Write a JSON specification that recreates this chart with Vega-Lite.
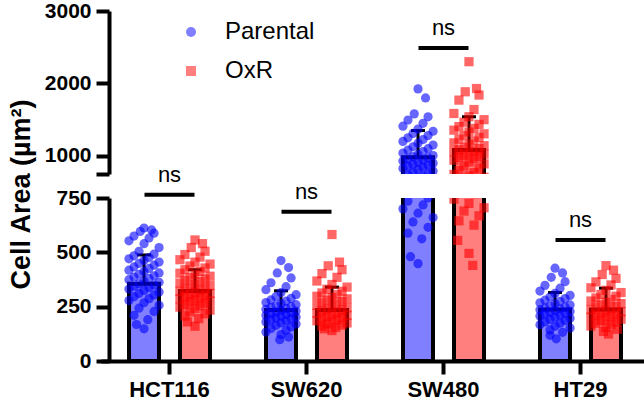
{
  "$schema": "https://vega.github.io/schema/vega-lite/v6.json",
  "padding": {"left": 6, "top": 0, "right": 0, "bottom": 0},
  "bounds": "flush",
  "spacing": 24,
  "config": {
    "font": "Liberation Sans",
    "view": {"stroke": null},
    "axis": {"grid": false, "domainColor": "black", "domainWidth": 4, "tickColor": "black", "tickWidth": 4, "tickSize": 13, "labelFont": "Liberation Sans", "labelFontWeight": "bold", "labelColor": "black", "labelFontSize": 21, "labelPadding": 5, "titleColor": "black", "titleFont": "Liberation Sans"},
    "legend": {"orient": "none", "legendX": 70, "legendY": 9, "title": null, "labelFontSize": 24, "labelFont": "Liberation Sans", "labelColor": "black", "symbolSize": 100, "labelOffset": 22, "rowPadding": 15, "padding": 0, "symbolOpacity": 0.5, "symbolStrokeWidth": 0}
  },
  "datasets": {
    "summary": [
      {"cell": "HCT116", "group": "Parental", "mean": 356, "upper": 488},
      {"cell": "HCT116", "group": "OxR", "mean": 322, "upper": 420},
      {"cell": "SW620", "group": "Parental", "mean": 235, "upper": 323},
      {"cell": "SW620", "group": "OxR", "mean": 235, "upper": 340},
      {"cell": "SW480", "group": "Parental", "mean": 981, "upper": 1350},
      {"cell": "SW480", "group": "OxR", "mean": 1082, "upper": 1540},
      {"cell": "HT29", "group": "Parental", "mean": 237, "upper": 315},
      {"cell": "HT29", "group": "OxR", "mean": 237, "upper": 335}
    ],
    "ns": [
      {"cell": "HCT116", "y": 765, "label": "ns"},
      {"cell": "SW620", "y": 687, "label": "ns"},
      {"cell": "SW480", "y": 2488, "label": "ns"},
      {"cell": "HT29", "y": 557, "label": "ns"}
    ],
    "pts": [
      {"cell":"HCT116","group":"Parental","value":612},{"cell":"HCT116","group":"Parental","value":603},{"cell":"HCT116","group":"Parental","value":596},{"cell":"HCT116","group":"Parental","value":588},{"cell":"HCT116","group":"Parental","value":575},{"cell":"HCT116","group":"Parental","value":566},{"cell":"HCT116","group":"Parental","value":553},{"cell":"HCT116","group":"Parental","value":540},{"cell":"HCT116","group":"Parental","value":522},{"cell":"HCT116","group":"Parental","value":505},{"cell":"HCT116","group":"Parental","value":492},{"cell":"HCT116","group":"Parental","value":484},{"cell":"HCT116","group":"Parental","value":476},{"cell":"HCT116","group":"Parental","value":470},{"cell":"HCT116","group":"Parental","value":462},{"cell":"HCT116","group":"Parental","value":455},{"cell":"HCT116","group":"Parental","value":449},{"cell":"HCT116","group":"Parental","value":441},{"cell":"HCT116","group":"Parental","value":433},{"cell":"HCT116","group":"Parental","value":426},{"cell":"HCT116","group":"Parental","value":418},{"cell":"HCT116","group":"Parental","value":412},{"cell":"HCT116","group":"Parental","value":405},{"cell":"HCT116","group":"Parental","value":399},{"cell":"HCT116","group":"Parental","value":392},{"cell":"HCT116","group":"Parental","value":386},{"cell":"HCT116","group":"Parental","value":380},{"cell":"HCT116","group":"Parental","value":374},{"cell":"HCT116","group":"Parental","value":368},{"cell":"HCT116","group":"Parental","value":362},{"cell":"HCT116","group":"Parental","value":356},{"cell":"HCT116","group":"Parental","value":350},{"cell":"HCT116","group":"Parental","value":344},{"cell":"HCT116","group":"Parental","value":338},{"cell":"HCT116","group":"Parental","value":331},{"cell":"HCT116","group":"Parental","value":325},{"cell":"HCT116","group":"Parental","value":318},{"cell":"HCT116","group":"Parental","value":311},{"cell":"HCT116","group":"Parental","value":304},{"cell":"HCT116","group":"Parental","value":296},{"cell":"HCT116","group":"Parental","value":287},{"cell":"HCT116","group":"Parental","value":278},{"cell":"HCT116","group":"Parental","value":268},{"cell":"HCT116","group":"Parental","value":256},{"cell":"HCT116","group":"Parental","value":243},{"cell":"HCT116","group":"Parental","value":228},{"cell":"HCT116","group":"Parental","value":210},{"cell":"HCT116","group":"Parental","value":190},{"cell":"HCT116","group":"Parental","value":168},{"cell":"HCT116","group":"Parental","value":148},
      {"cell":"HCT116","group":"OxR","value":557},{"cell":"HCT116","group":"OxR","value":540},{"cell":"HCT116","group":"OxR","value":522},{"cell":"HCT116","group":"OxR","value":505},{"cell":"HCT116","group":"OxR","value":490},{"cell":"HCT116","group":"OxR","value":478},{"cell":"HCT116","group":"OxR","value":466},{"cell":"HCT116","group":"OxR","value":455},{"cell":"HCT116","group":"OxR","value":446},{"cell":"HCT116","group":"OxR","value":437},{"cell":"HCT116","group":"OxR","value":428},{"cell":"HCT116","group":"OxR","value":420},{"cell":"HCT116","group":"OxR","value":412},{"cell":"HCT116","group":"OxR","value":404},{"cell":"HCT116","group":"OxR","value":397},{"cell":"HCT116","group":"OxR","value":390},{"cell":"HCT116","group":"OxR","value":383},{"cell":"HCT116","group":"OxR","value":377},{"cell":"HCT116","group":"OxR","value":371},{"cell":"HCT116","group":"OxR","value":365},{"cell":"HCT116","group":"OxR","value":359},{"cell":"HCT116","group":"OxR","value":353},{"cell":"HCT116","group":"OxR","value":347},{"cell":"HCT116","group":"OxR","value":341},{"cell":"HCT116","group":"OxR","value":336},{"cell":"HCT116","group":"OxR","value":331},{"cell":"HCT116","group":"OxR","value":326},{"cell":"HCT116","group":"OxR","value":321},{"cell":"HCT116","group":"OxR","value":316},{"cell":"HCT116","group":"OxR","value":311},{"cell":"HCT116","group":"OxR","value":306},{"cell":"HCT116","group":"OxR","value":301},{"cell":"HCT116","group":"OxR","value":296},{"cell":"HCT116","group":"OxR","value":291},{"cell":"HCT116","group":"OxR","value":286},{"cell":"HCT116","group":"OxR","value":281},{"cell":"HCT116","group":"OxR","value":276},{"cell":"HCT116","group":"OxR","value":271},{"cell":"HCT116","group":"OxR","value":266},{"cell":"HCT116","group":"OxR","value":260},{"cell":"HCT116","group":"OxR","value":254},{"cell":"HCT116","group":"OxR","value":248},{"cell":"HCT116","group":"OxR","value":241},{"cell":"HCT116","group":"OxR","value":234},{"cell":"HCT116","group":"OxR","value":226},{"cell":"HCT116","group":"OxR","value":217},{"cell":"HCT116","group":"OxR","value":207},{"cell":"HCT116","group":"OxR","value":195},{"cell":"HCT116","group":"OxR","value":180},{"cell":"HCT116","group":"OxR","value":160},
      {"cell":"SW620","group":"Parental","value":462},{"cell":"SW620","group":"Parental","value":430},{"cell":"SW620","group":"Parental","value":405},{"cell":"SW620","group":"Parental","value":382},{"cell":"SW620","group":"Parental","value":360},{"cell":"SW620","group":"Parental","value":342},{"cell":"SW620","group":"Parental","value":328},{"cell":"SW620","group":"Parental","value":315},{"cell":"SW620","group":"Parental","value":305},{"cell":"SW620","group":"Parental","value":296},{"cell":"SW620","group":"Parental","value":288},{"cell":"SW620","group":"Parental","value":281},{"cell":"SW620","group":"Parental","value":275},{"cell":"SW620","group":"Parental","value":269},{"cell":"SW620","group":"Parental","value":264},{"cell":"SW620","group":"Parental","value":259},{"cell":"SW620","group":"Parental","value":254},{"cell":"SW620","group":"Parental","value":250},{"cell":"SW620","group":"Parental","value":246},{"cell":"SW620","group":"Parental","value":242},{"cell":"SW620","group":"Parental","value":238},{"cell":"SW620","group":"Parental","value":234},{"cell":"SW620","group":"Parental","value":230},{"cell":"SW620","group":"Parental","value":226},{"cell":"SW620","group":"Parental","value":222},{"cell":"SW620","group":"Parental","value":218},{"cell":"SW620","group":"Parental","value":214},{"cell":"SW620","group":"Parental","value":210},{"cell":"SW620","group":"Parental","value":206},{"cell":"SW620","group":"Parental","value":202},{"cell":"SW620","group":"Parental","value":198},{"cell":"SW620","group":"Parental","value":194},{"cell":"SW620","group":"Parental","value":190},{"cell":"SW620","group":"Parental","value":185},{"cell":"SW620","group":"Parental","value":180},{"cell":"SW620","group":"Parental","value":175},{"cell":"SW620","group":"Parental","value":170},{"cell":"SW620","group":"Parental","value":164},{"cell":"SW620","group":"Parental","value":157},{"cell":"SW620","group":"Parental","value":150},{"cell":"SW620","group":"Parental","value":142},{"cell":"SW620","group":"Parental","value":133},{"cell":"SW620","group":"Parental","value":122},{"cell":"SW620","group":"Parental","value":110},{"cell":"SW620","group":"Parental","value":98},
      {"cell":"SW620","group":"OxR","value":582},{"cell":"SW620","group":"OxR","value":455},{"cell":"SW620","group":"OxR","value":438},{"cell":"SW620","group":"OxR","value":420},{"cell":"SW620","group":"OxR","value":402},{"cell":"SW620","group":"OxR","value":385},{"cell":"SW620","group":"OxR","value":368},{"cell":"SW620","group":"OxR","value":352},{"cell":"SW620","group":"OxR","value":340},{"cell":"SW620","group":"OxR","value":330},{"cell":"SW620","group":"OxR","value":321},{"cell":"SW620","group":"OxR","value":313},{"cell":"SW620","group":"OxR","value":305},{"cell":"SW620","group":"OxR","value":298},{"cell":"SW620","group":"OxR","value":292},{"cell":"SW620","group":"OxR","value":286},{"cell":"SW620","group":"OxR","value":280},{"cell":"SW620","group":"OxR","value":274},{"cell":"SW620","group":"OxR","value":268},{"cell":"SW620","group":"OxR","value":262},{"cell":"SW620","group":"OxR","value":256},{"cell":"SW620","group":"OxR","value":250},{"cell":"SW620","group":"OxR","value":245},{"cell":"SW620","group":"OxR","value":240},{"cell":"SW620","group":"OxR","value":235},{"cell":"SW620","group":"OxR","value":230},{"cell":"SW620","group":"OxR","value":225},{"cell":"SW620","group":"OxR","value":220},{"cell":"SW620","group":"OxR","value":215},{"cell":"SW620","group":"OxR","value":210},{"cell":"SW620","group":"OxR","value":205},{"cell":"SW620","group":"OxR","value":200},{"cell":"SW620","group":"OxR","value":195},{"cell":"SW620","group":"OxR","value":190},{"cell":"SW620","group":"OxR","value":185},{"cell":"SW620","group":"OxR","value":180},{"cell":"SW620","group":"OxR","value":175},{"cell":"SW620","group":"OxR","value":170},{"cell":"SW620","group":"OxR","value":165},{"cell":"SW620","group":"OxR","value":160},{"cell":"SW620","group":"OxR","value":154},{"cell":"SW620","group":"OxR","value":148},{"cell":"SW620","group":"OxR","value":140},
      {"cell":"SW480","group":"Parental","value":1925},{"cell":"SW480","group":"Parental","value":1800},{"cell":"SW480","group":"Parental","value":1580},{"cell":"SW480","group":"Parental","value":1540},{"cell":"SW480","group":"Parental","value":1495},{"cell":"SW480","group":"Parental","value":1450},{"cell":"SW480","group":"Parental","value":1410},{"cell":"SW480","group":"Parental","value":1370},{"cell":"SW480","group":"Parental","value":1340},{"cell":"SW480","group":"Parental","value":1310},{"cell":"SW480","group":"Parental","value":1280},{"cell":"SW480","group":"Parental","value":1250},{"cell":"SW480","group":"Parental","value":1225},{"cell":"SW480","group":"Parental","value":1200},{"cell":"SW480","group":"Parental","value":1175},{"cell":"SW480","group":"Parental","value":1150},{"cell":"SW480","group":"Parental","value":1125},{"cell":"SW480","group":"Parental","value":1100},{"cell":"SW480","group":"Parental","value":1080},{"cell":"SW480","group":"Parental","value":1060},{"cell":"SW480","group":"Parental","value":1040},{"cell":"SW480","group":"Parental","value":1020},{"cell":"SW480","group":"Parental","value":1005},{"cell":"SW480","group":"Parental","value":990},{"cell":"SW480","group":"Parental","value":975},{"cell":"SW480","group":"Parental","value":960},{"cell":"SW480","group":"Parental","value":945},{"cell":"SW480","group":"Parental","value":930},{"cell":"SW480","group":"Parental","value":915},{"cell":"SW480","group":"Parental","value":900},{"cell":"SW480","group":"Parental","value":885},{"cell":"SW480","group":"Parental","value":870},{"cell":"SW480","group":"Parental","value":855},{"cell":"SW480","group":"Parental","value":840},{"cell":"SW480","group":"Parental","value":825},{"cell":"SW480","group":"Parental","value":810},{"cell":"SW480","group":"Parental","value":790},{"cell":"SW480","group":"Parental","value":770},{"cell":"SW480","group":"Parental","value":750},{"cell":"SW480","group":"Parental","value":735},{"cell":"SW480","group":"Parental","value":718},{"cell":"SW480","group":"Parental","value":700},{"cell":"SW480","group":"Parental","value":680},{"cell":"SW480","group":"Parental","value":660},{"cell":"SW480","group":"Parental","value":640},{"cell":"SW480","group":"Parental","value":615},{"cell":"SW480","group":"Parental","value":588},{"cell":"SW480","group":"Parental","value":562},{"cell":"SW480","group":"Parental","value":480},{"cell":"SW480","group":"Parental","value":448},
      {"cell":"SW480","group":"OxR","value":2300},{"cell":"SW480","group":"OxR","value":1930},{"cell":"SW480","group":"OxR","value":1885},{"cell":"SW480","group":"OxR","value":1840},{"cell":"SW480","group":"OxR","value":1770},{"cell":"SW480","group":"OxR","value":1640},{"cell":"SW480","group":"OxR","value":1585},{"cell":"SW480","group":"OxR","value":1540},{"cell":"SW480","group":"OxR","value":1500},{"cell":"SW480","group":"OxR","value":1465},{"cell":"SW480","group":"OxR","value":1435},{"cell":"SW480","group":"OxR","value":1405},{"cell":"SW480","group":"OxR","value":1380},{"cell":"SW480","group":"OxR","value":1355},{"cell":"SW480","group":"OxR","value":1330},{"cell":"SW480","group":"OxR","value":1305},{"cell":"SW480","group":"OxR","value":1280},{"cell":"SW480","group":"OxR","value":1255},{"cell":"SW480","group":"OxR","value":1230},{"cell":"SW480","group":"OxR","value":1205},{"cell":"SW480","group":"OxR","value":1180},{"cell":"SW480","group":"OxR","value":1160},{"cell":"SW480","group":"OxR","value":1140},{"cell":"SW480","group":"OxR","value":1120},{"cell":"SW480","group":"OxR","value":1100},{"cell":"SW480","group":"OxR","value":1085},{"cell":"SW480","group":"OxR","value":1070},{"cell":"SW480","group":"OxR","value":1055},{"cell":"SW480","group":"OxR","value":1040},{"cell":"SW480","group":"OxR","value":1025},{"cell":"SW480","group":"OxR","value":1010},{"cell":"SW480","group":"OxR","value":995},{"cell":"SW480","group":"OxR","value":980},{"cell":"SW480","group":"OxR","value":960},{"cell":"SW480","group":"OxR","value":940},{"cell":"SW480","group":"OxR","value":915},{"cell":"SW480","group":"OxR","value":890},{"cell":"SW480","group":"OxR","value":860},{"cell":"SW480","group":"OxR","value":830},{"cell":"SW480","group":"OxR","value":800},{"cell":"SW480","group":"OxR","value":770},{"cell":"SW480","group":"OxR","value":745},{"cell":"SW480","group":"OxR","value":725},{"cell":"SW480","group":"OxR","value":705},{"cell":"SW480","group":"OxR","value":690},{"cell":"SW480","group":"OxR","value":668},{"cell":"SW480","group":"OxR","value":645},{"cell":"SW480","group":"OxR","value":625},{"cell":"SW480","group":"OxR","value":555},{"cell":"SW480","group":"OxR","value":495},{"cell":"SW480","group":"OxR","value":440},
      {"cell":"HT29","group":"Parental","value":427},{"cell":"HT29","group":"Parental","value":405},{"cell":"HT29","group":"Parental","value":385},{"cell":"HT29","group":"Parental","value":365},{"cell":"HT29","group":"Parental","value":348},{"cell":"HT29","group":"Parental","value":335},{"cell":"HT29","group":"Parental","value":322},{"cell":"HT29","group":"Parental","value":311},{"cell":"HT29","group":"Parental","value":302},{"cell":"HT29","group":"Parental","value":294},{"cell":"HT29","group":"Parental","value":287},{"cell":"HT29","group":"Parental","value":280},{"cell":"HT29","group":"Parental","value":274},{"cell":"HT29","group":"Parental","value":268},{"cell":"HT29","group":"Parental","value":263},{"cell":"HT29","group":"Parental","value":258},{"cell":"HT29","group":"Parental","value":253},{"cell":"HT29","group":"Parental","value":248},{"cell":"HT29","group":"Parental","value":244},{"cell":"HT29","group":"Parental","value":240},{"cell":"HT29","group":"Parental","value":236},{"cell":"HT29","group":"Parental","value":232},{"cell":"HT29","group":"Parental","value":228},{"cell":"HT29","group":"Parental","value":224},{"cell":"HT29","group":"Parental","value":220},{"cell":"HT29","group":"Parental","value":216},{"cell":"HT29","group":"Parental","value":212},{"cell":"HT29","group":"Parental","value":207},{"cell":"HT29","group":"Parental","value":202},{"cell":"HT29","group":"Parental","value":197},{"cell":"HT29","group":"Parental","value":192},{"cell":"HT29","group":"Parental","value":186},{"cell":"HT29","group":"Parental","value":180},{"cell":"HT29","group":"Parental","value":174},{"cell":"HT29","group":"Parental","value":167},{"cell":"HT29","group":"Parental","value":160},{"cell":"HT29","group":"Parental","value":152},{"cell":"HT29","group":"Parental","value":143},{"cell":"HT29","group":"Parental","value":132},{"cell":"HT29","group":"Parental","value":118},{"cell":"HT29","group":"Parental","value":102},
      {"cell":"HT29","group":"OxR","value":439},{"cell":"HT29","group":"OxR","value":418},{"cell":"HT29","group":"OxR","value":398},{"cell":"HT29","group":"OxR","value":380},{"cell":"HT29","group":"OxR","value":364},{"cell":"HT29","group":"OxR","value":350},{"cell":"HT29","group":"OxR","value":337},{"cell":"HT29","group":"OxR","value":325},{"cell":"HT29","group":"OxR","value":315},{"cell":"HT29","group":"OxR","value":306},{"cell":"HT29","group":"OxR","value":298},{"cell":"HT29","group":"OxR","value":290},{"cell":"HT29","group":"OxR","value":283},{"cell":"HT29","group":"OxR","value":276},{"cell":"HT29","group":"OxR","value":270},{"cell":"HT29","group":"OxR","value":264},{"cell":"HT29","group":"OxR","value":258},{"cell":"HT29","group":"OxR","value":252},{"cell":"HT29","group":"OxR","value":247},{"cell":"HT29","group":"OxR","value":242},{"cell":"HT29","group":"OxR","value":237},{"cell":"HT29","group":"OxR","value":232},{"cell":"HT29","group":"OxR","value":227},{"cell":"HT29","group":"OxR","value":222},{"cell":"HT29","group":"OxR","value":217},{"cell":"HT29","group":"OxR","value":212},{"cell":"HT29","group":"OxR","value":207},{"cell":"HT29","group":"OxR","value":202},{"cell":"HT29","group":"OxR","value":197},{"cell":"HT29","group":"OxR","value":192},{"cell":"HT29","group":"OxR","value":186},{"cell":"HT29","group":"OxR","value":180},{"cell":"HT29","group":"OxR","value":174},{"cell":"HT29","group":"OxR","value":168},{"cell":"HT29","group":"OxR","value":161},{"cell":"HT29","group":"OxR","value":154},{"cell":"HT29","group":"OxR","value":146},{"cell":"HT29","group":"OxR","value":136},{"cell":"HT29","group":"OxR","value":124}
    ]
  },
  "resolve": {"scale": {"y": "independent"}, "legend": {"color": "independent", "shape": "independent"}},
  "vconcat": [
    {
      "width": 532,
      "height": 163,
      "resolve": {"scale": {"xOffset": "independent"}},
      "encoding": {
        "x": {"field": "cell", "type": "nominal", "axis": null, "scale": {"domain": ["HCT116", "SW620", "SW480", "HT29"], "range": [-8, 540], "paddingInner": 0, "paddingOuter": 0}},
        "y": {"type": "quantitative", "scale": {"domain": [750, 3000], "nice": false, "zero": false}, "axis": {"values": [750, 1000, 2000, 3000], "format": "d", "labelExpr": "datum.value == 750 ? '' : datum.label", "title": null}}
      },
      "layer": [
        {
          "data": {"name": "summary"},
          "transform": [{"filter": "datum.mean > 750"}],
          "mark": {"type": "bar", "fillOpacity": 0.5, "stroke": "black", "strokeWidth": 4, "clip": true},
          "encoding": {
            "xOffset": {"field": "group", "type": "nominal", "scale": {"domain": ["Parental", "OxR"], "paddingInner": 0.412, "paddingOuter": 0.549}},
            "y": {"field": "mean", "type": "quantitative"},
            "y2": {"datum": 700},
            "color": {"field": "group", "type": "nominal", "scale": {"domain": ["Parental", "OxR"], "range": ["#0000ff", "#ff0000"]}}
          }
        },
        {
          "data": {"name": "summary"},
          "transform": [{"filter": "datum.mean > 750"}],
          "mark": {"type": "rule", "color": "black", "strokeWidth": 3, "clip": true},
          "encoding": {
            "xOffset": {"field": "group", "type": "nominal", "scale": {"domain": ["Parental", "OxR"], "paddingInner": 0.412, "paddingOuter": 0.549}},
            "y": {"field": "mean", "type": "quantitative"},
            "y2": {"field": "upper"}
          }
        },
        {
          "data": {"name": "summary"},
          "transform": [{"filter": "datum.mean > 750"}],
          "mark": {"type": "tick", "color": "black", "size": 14, "thickness": 3, "opacity": 1, "clip": true},
          "encoding": {
            "xOffset": {"field": "group", "type": "nominal", "scale": {"domain": ["Parental", "OxR"], "paddingInner": 0.412, "paddingOuter": 0.549}},
            "y": {"field": "upper", "type": "quantitative"}
          }
        },
        {
          "data": {"name": "pts"},
          "transform": [
            {"window": [{"op": "row_number", "as": "r"}], "groupby": ["cell", "group"], "sort": [{"field": "value", "order": "descending"}]},
            {"joinaggregate": [{"op": "count", "as": "n"}], "groupby": ["cell", "group"]},
            {"calculate": "(datum.group === 'Parental' ? -0.372 : 0.372) + 0.22 * min(1, datum.r / 4, (datum.n - datum.r + 1) / 4) * (((datum.r * 3) % 7) - 3) / 3", "as": "xo"}
          ],
          "mark": {"type": "point", "filled": true, "opacity": 0.6, "size": 85, "strokeWidth": 0, "clip": true},
          "encoding": {
            "xOffset": {"field": "xo", "type": "quantitative", "scale": {"domain": [-1, 1]}},
            "y": {"field": "value", "type": "quantitative"},
            "color": {"field": "group", "type": "nominal", "scale": {"domain": ["Parental", "OxR"], "range": ["#0000ff", "#ff0000"]}},
            "shape": {"field": "group", "type": "nominal", "scale": {"domain": ["Parental", "OxR"], "range": ["circle", "square"]}}
          }
        },
        {
          "data": {"name": "ns"},
          "transform": [{"filter": "datum.y > 1000"}],
          "mark": {"type": "tick", "color": "black", "size": 50, "thickness": 4, "opacity": 1},
          "encoding": {"y": {"field": "y", "type": "quantitative"}}
        },
        {
          "data": {"name": "ns"},
          "transform": [{"filter": "datum.y > 1000"}],
          "mark": {"type": "text", "fontSize": 22, "font": "Liberation Sans", "color": "black", "dy": -13, "baseline": "alphabetic", "align": "center"},
          "encoding": {"y": {"field": "y", "type": "quantitative"}, "text": {"field": "label"}}
        }
      ]
    },
    {
      "width": 532,
      "height": 163,
      "resolve": {"scale": {"xOffset": "independent"}},
      "encoding": {
        "x": {"field": "cell", "type": "nominal", "scale": {"domain": ["HCT116", "SW620", "SW480", "HT29"], "range": [-8, 540], "paddingInner": 0, "paddingOuter": 0}, "axis": {"title": null, "labelAngle": 0, "labelFontSize": 22, "labelPadding": 5, "tickSize": 13}},
        "y": {"type": "quantitative", "scale": {"domain": [0, 750], "nice": false}, "axis": {"values": [0, 250, 500, 750], "title": "Cell Area (µm²)", "titleX": -80, "titleY": -4, "titleFontSize": 27, "titleFontWeight": "bold", "titleAlign": "center", "titleBaseline": "alphabetic", "titleAngle": 270}}
      },
      "layer": [
        {
          "data": {"name": "summary"},
          "mark": {"type": "bar", "fillOpacity": 0.5, "stroke": "black", "strokeWidth": 4, "clip": true},
          "encoding": {
            "xOffset": {"field": "group", "type": "nominal", "scale": {"domain": ["Parental", "OxR"], "paddingInner": 0.412, "paddingOuter": 0.549}},
            "y": {"field": "mean", "type": "quantitative"},
            "color": {"field": "group", "type": "nominal", "scale": {"domain": ["Parental", "OxR"], "range": ["#0000ff", "#ff0000"]}, "legend": null}
          }
        },
        {
          "data": {"name": "summary"},
          "mark": {"type": "rule", "color": "black", "strokeWidth": 3, "clip": true},
          "encoding": {
            "xOffset": {"field": "group", "type": "nominal", "scale": {"domain": ["Parental", "OxR"], "paddingInner": 0.412, "paddingOuter": 0.549}},
            "y": {"field": "mean", "type": "quantitative"},
            "y2": {"field": "upper"}
          }
        },
        {
          "data": {"name": "summary"},
          "mark": {"type": "tick", "color": "black", "size": 14, "thickness": 3, "opacity": 1, "clip": true},
          "encoding": {
            "xOffset": {"field": "group", "type": "nominal", "scale": {"domain": ["Parental", "OxR"], "paddingInner": 0.412, "paddingOuter": 0.549}},
            "y": {"field": "upper", "type": "quantitative"}
          }
        },
        {
          "data": {"name": "pts"},
          "transform": [
            {"window": [{"op": "row_number", "as": "r"}], "groupby": ["cell", "group"], "sort": [{"field": "value", "order": "descending"}]},
            {"joinaggregate": [{"op": "count", "as": "n"}], "groupby": ["cell", "group"]},
            {"calculate": "(datum.group === 'Parental' ? -0.372 : 0.372) + 0.22 * min(1, datum.r / 4, (datum.n - datum.r + 1) / 4) * (((datum.r * 3) % 7) - 3) / 3", "as": "xo"}
          ],
          "mark": {"type": "point", "filled": true, "opacity": 0.6, "size": 85, "strokeWidth": 0, "clip": true},
          "encoding": {
            "xOffset": {"field": "xo", "type": "quantitative", "scale": {"domain": [-1, 1]}},
            "y": {"field": "value", "type": "quantitative"},
            "color": {"field": "group", "type": "nominal", "scale": {"domain": ["Parental", "OxR"], "range": ["#0000ff", "#ff0000"]}, "legend": null},
            "shape": {"field": "group", "type": "nominal", "scale": {"domain": ["Parental", "OxR"], "range": ["circle", "square"]}, "legend": null}
          }
        },
        {
          "data": {"name": "ns"},
          "transform": [{"filter": "datum.y < 1000"}],
          "mark": {"type": "tick", "color": "black", "size": 50, "thickness": 4, "opacity": 1},
          "encoding": {"y": {"field": "y", "type": "quantitative"}}
        },
        {
          "data": {"name": "ns"},
          "transform": [{"filter": "datum.y < 1000"}],
          "mark": {"type": "text", "fontSize": 22, "font": "Liberation Sans", "color": "black", "dy": -13, "baseline": "alphabetic", "align": "center"},
          "encoding": {"y": {"field": "y", "type": "quantitative"}, "text": {"field": "label"}}
        }
      ]
    }
  ]
}
